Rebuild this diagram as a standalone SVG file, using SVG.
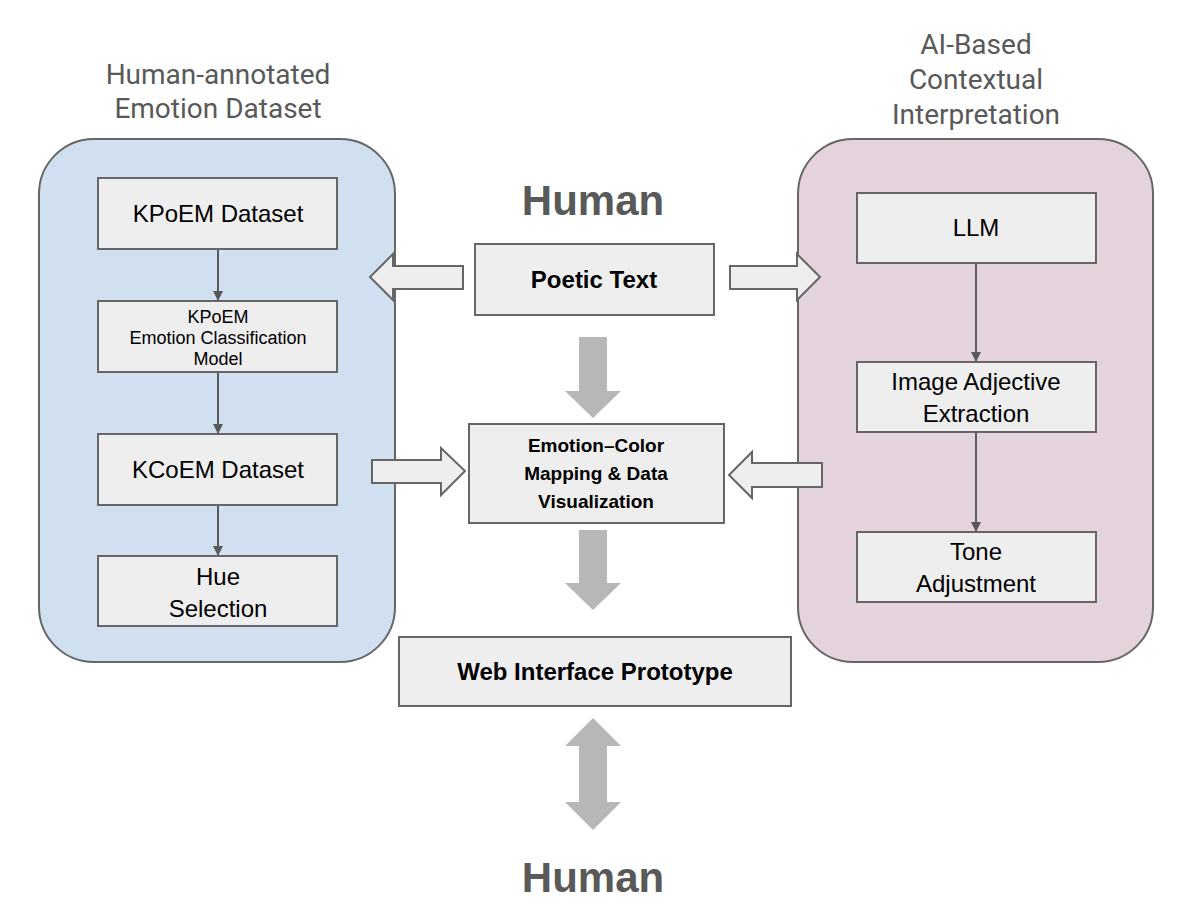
<svg xmlns="http://www.w3.org/2000/svg" width="1192" height="918" viewBox="0 0 1192 918">
<style>
text{font-family:"Liberation Sans",Arial,sans-serif;text-anchor:middle}
.box{fill:#eeeeee;stroke:#666;stroke-width:2}
.t{font-size:24px;fill:#000}
.b{font-weight:bold;font-size:24px;fill:#000}
.title{font-family:Roboto,"Liberation Sans",sans-serif;font-size:28px;fill:#595959}
.hum{font-weight:bold;font-size:42px;fill:#595959}
.ln{stroke:#595959;stroke-width:2;fill:none;marker-end:url(#ah)}
.hol{fill:#eeeeee;stroke:#666;stroke-width:2}
.big{fill:#b7b7b7}
</style>
<defs><marker id="ah" markerWidth="10" markerHeight="10" refX="9" refY="5" orient="auto" markerUnits="userSpaceOnUse" viewBox="0 0 10 10"><path d="M0,0L10,5L0,10z" fill="#595959"/></marker>
<marker id="ah2" markerWidth="14" markerHeight="14" refX="13" refY="7" orient="auto" markerUnits="userSpaceOnUse" viewBox="0 0 14 14"><path d="M0,0L14,7L0,14z" fill="#595959"/></marker></defs>
<rect width="1192" height="918" fill="#fff"/>
<g id="left-panel"><rect x="39" y="139" width="356" height="523" rx="55" fill="#d0e0f0" stroke="#666" stroke-width="2"/>
<text class="title" x="218" y="84">Human-annotated</text><text class="title" x="218" y="118">Emotion Dataset</text></g>
<g id="right-panel"><rect x="798" y="139" width="355" height="523" rx="55" fill="#e4d2dd" stroke="#666" stroke-width="2"/>
<text class="title" x="976" y="54">AI-Based</text><text class="title" x="976" y="89">Contextual</text><text class="title" x="976" y="124">Interpretation</text></g>
<g id="human-top"><text class="hum" x="593" y="215">Human</text></g>
<g id="human-bottom"><text class="hum" x="593" y="892">Human</text></g>
<g id="kpoem"><rect class="box" x="98" y="178" width="239" height="71"/><text class="t" x="218" y="222">KPoEM Dataset</text></g>
<g id="model"><rect class="box" x="98" y="301" width="239" height="71"/><text x="218" y="323" font-size="18">KPoEM</text><text x="218" y="344" font-size="18">Emotion Classification</text><text x="218" y="365" font-size="18">Model</text></g>
<g id="kcoem"><rect class="box" x="98" y="434" width="239" height="71"/><text class="t" x="218" y="478">KCoEM Dataset</text></g>
<g id="hue"><rect class="box" x="98" y="556" width="239" height="70"/><text class="t" x="218" y="585">Hue</text><text class="t" x="218" y="617">Selection</text></g>
<g id="llm"><rect class="box" x="857" y="193" width="239" height="70"/><text class="t" x="976" y="236">LLM</text></g>
<g id="adj"><rect class="box" x="857" y="362" width="239" height="70"/><text class="t" x="976" y="390">Image Adjective</text><text class="t" x="976" y="422">Extraction</text></g>
<g id="tone"><rect class="box" x="857" y="532" width="239" height="70"/><text class="t" x="976" y="560">Tone</text><text class="t" x="976" y="592">Adjustment</text></g>
<g id="poetic"><rect class="box" x="475" y="244" width="239" height="71"/><text class="b" x="594" y="288">Poetic Text</text></g>
<g id="emotion"><rect class="box" x="469" y="424" width="255" height="99"/><text x="596" y="452" font-size="19" font-weight="bold">Emotion–Color</text><text x="596" y="480" font-size="19" font-weight="bold">Mapping &amp; Data</text><text x="596" y="508" font-size="19" font-weight="bold">Visualization</text></g>
<g id="web"><rect class="box" x="399" y="637" width="392" height="69"/><text class="b" x="595" y="680">Web Interface Prototype</text></g>
<g id="connectors">
<line class="ln" x1="218" y1="250" x2="218" y2="300"/>
<line class="ln" x1="218" y1="373" x2="218" y2="433"/>
<line class="ln" x1="218" y1="506" x2="218" y2="555"/>
<line class="ln" x1="976" y1="264" x2="976" y2="361"/>
<line class="ln" x1="976" y1="433" x2="976" y2="531"/>
<path class="hol" d="M463,266H393V254L370,277L393,300V289H463Z"/>
<path class="hol" d="M730,266H797V254L820,277L797,300V289H730Z"/>
<path class="hol" d="M372,460H441V448L465,471L441,495V483H372Z"/>
<path class="hol" d="M822,463H752V452L729,475L752,498V487H822Z"/>
<path class="big" d="M579,337H607V391H621L593,418L565,391H579Z"/>
<path class="big" d="M579,530H607V583H621L593,610L565,583H579Z"/>
<path class="big" d="M593,718L621,746H607V802H621L593,830L565,802H579V746H565Z"/>
</g>
</svg>
